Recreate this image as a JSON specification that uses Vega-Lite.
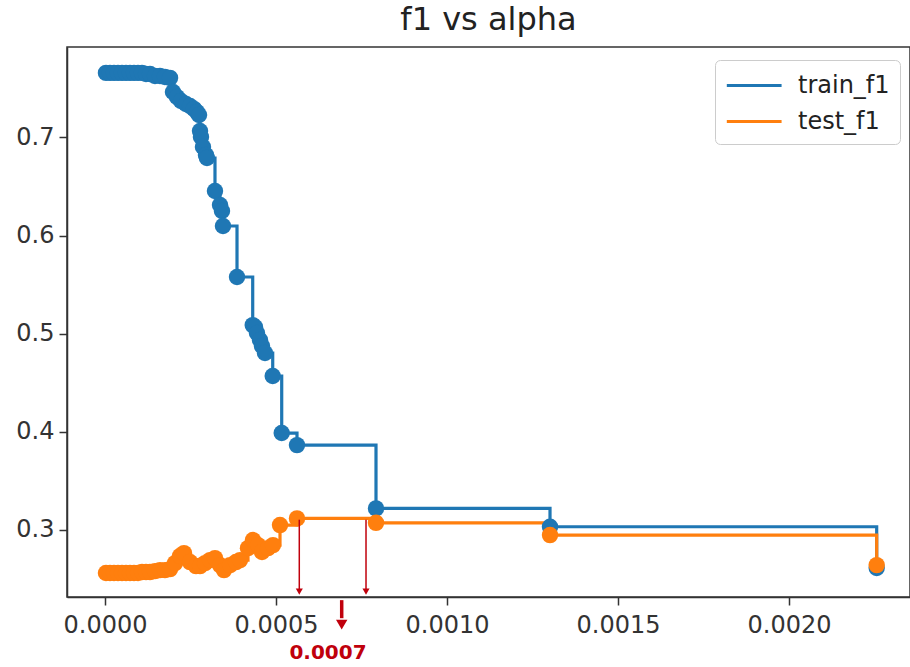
{
  "$schema": "https://vega.github.io/schema/vega-lite/v6.json",
  "width": 843,
  "height": 550,
  "autosize": "none",
  "padding": {"left": 67, "top": 47, "right": 0, "bottom": 70},
  "background": "white",
  "title": {"text": "f1 vs alpha", "fontSize": 32, "fontWeight": "normal", "color": "#222", "font": "DejaVu Sans", "offset": 10, "anchor": "middle"},
  "config": {
    "font": "DejaVu Sans",
    "view": {"stroke": "#333", "strokeWidth": 1.5},
    "axis": {"grid": false, "labelFontSize": 24, "labelColor": "#333", "tickColor": "#333", "domainColor": "#333", "tickSize": 8, "tickWidth": 1.5, "domainWidth": 1.5, "labelPadding": 5, "title": null, "labelFont": "DejaVu Sans"},
    "axisX": {"labelPadding": 8},
    "legend": {"orient": "none", "legendX": 648, "legendY": 13, "labelFontSize": 24, "labelColor": "#222", "symbolType": "M-1,0H3", "symbolSize": 750, "symbolStrokeWidth": 3, "strokeColor": "#cccccc", "fillColor": "white", "cornerRadius": 5, "padding": 10, "rowPadding": 8, "labelOffset": 42, "title": null}
  },
  "datasets": {
    "pts": [
      {"x": 0.0000029, "y": 0.7658, "series": "train_f1"},
      {"x": 0.0000146, "y": 0.7658, "series": "train_f1"},
      {"x": 0.0000263, "y": 0.7658, "series": "train_f1"},
      {"x": 0.000038, "y": 0.7658, "series": "train_f1"},
      {"x": 0.0000497, "y": 0.7658, "series": "train_f1"},
      {"x": 0.0000614, "y": 0.7658, "series": "train_f1"},
      {"x": 0.0000731, "y": 0.7658, "series": "train_f1"},
      {"x": 0.0000848, "y": 0.7658, "series": "train_f1"},
      {"x": 0.0000965, "y": 0.7658, "series": "train_f1"},
      {"x": 0.0001082, "y": 0.7658, "series": "train_f1"},
      {"x": 0.0001199, "y": 0.7647, "series": "train_f1"},
      {"x": 0.0001316, "y": 0.7647, "series": "train_f1"},
      {"x": 0.0001462, "y": 0.7627, "series": "train_f1"},
      {"x": 0.0001608, "y": 0.7627, "series": "train_f1"},
      {"x": 0.0001754, "y": 0.7617, "series": "train_f1"},
      {"x": 0.0001901, "y": 0.7607, "series": "train_f1"},
      {"x": 0.0001988, "y": 0.7464, "series": "train_f1"},
      {"x": 0.0002105, "y": 0.7413, "series": "train_f1"},
      {"x": 0.0002222, "y": 0.7372, "series": "train_f1"},
      {"x": 0.0002368, "y": 0.7341, "series": "train_f1"},
      {"x": 0.0002485, "y": 0.7321, "series": "train_f1"},
      {"x": 0.0002602, "y": 0.7291, "series": "train_f1"},
      {"x": 0.000269, "y": 0.726, "series": "train_f1"},
      {"x": 0.0002749, "y": 0.7229, "series": "train_f1"},
      {"x": 0.0002778, "y": 0.7066, "series": "train_f1"},
      {"x": 0.0002807, "y": 0.7005, "series": "train_f1"},
      {"x": 0.0002865, "y": 0.6903, "series": "train_f1"},
      {"x": 0.0002953, "y": 0.6822, "series": "train_f1"},
      {"x": 0.0002982, "y": 0.6791, "series": "train_f1"},
      {"x": 0.0003216, "y": 0.6455, "series": "train_f1"},
      {"x": 0.0003363, "y": 0.6312, "series": "train_f1"},
      {"x": 0.0003421, "y": 0.6251, "series": "train_f1"},
      {"x": 0.000345, "y": 0.6098, "series": "train_f1"},
      {"x": 0.000386, "y": 0.5578, "series": "train_f1"},
      {"x": 0.0004319, "y": 0.5088, "series": "train_f1"},
      {"x": 0.0004386, "y": 0.5068, "series": "train_f1"},
      {"x": 0.0004444, "y": 0.5007, "series": "train_f1"},
      {"x": 0.0004532, "y": 0.4936, "series": "train_f1"},
      {"x": 0.000459, "y": 0.4875, "series": "train_f1"},
      {"x": 0.0004678, "y": 0.4803, "series": "train_f1"},
      {"x": 0.0004904, "y": 0.4569, "series": "train_f1"},
      {"x": 0.0005167, "y": 0.3988, "series": "train_f1"},
      {"x": 0.0005614, "y": 0.3865, "series": "train_f1"},
      {"x": 0.0007924, "y": 0.322, "series": "train_f1"},
      {"x": 0.0013012, "y": 0.3033, "series": "train_f1"},
      {"x": 0.0022564, "y": 0.2612, "series": "train_f1"},
      {"x": 0.0000029, "y": 0.2561, "series": "test_f1"},
      {"x": 0.0000146, "y": 0.2561, "series": "test_f1"},
      {"x": 0.0000263, "y": 0.2561, "series": "test_f1"},
      {"x": 0.000038, "y": 0.2561, "series": "test_f1"},
      {"x": 0.0000497, "y": 0.2561, "series": "test_f1"},
      {"x": 0.0000614, "y": 0.2561, "series": "test_f1"},
      {"x": 0.0000731, "y": 0.2561, "series": "test_f1"},
      {"x": 0.0000848, "y": 0.2561, "series": "test_f1"},
      {"x": 0.0000965, "y": 0.2561, "series": "test_f1"},
      {"x": 0.0001082, "y": 0.2571, "series": "test_f1"},
      {"x": 0.0001199, "y": 0.2571, "series": "test_f1"},
      {"x": 0.0001316, "y": 0.2571, "series": "test_f1"},
      {"x": 0.0001462, "y": 0.2581, "series": "test_f1"},
      {"x": 0.0001608, "y": 0.2591, "series": "test_f1"},
      {"x": 0.0001754, "y": 0.2591, "series": "test_f1"},
      {"x": 0.0001901, "y": 0.2601, "series": "test_f1"},
      {"x": 0.0002047, "y": 0.2662, "series": "test_f1"},
      {"x": 0.0002193, "y": 0.2734, "series": "test_f1"},
      {"x": 0.000231, "y": 0.2764, "series": "test_f1"},
      {"x": 0.0002485, "y": 0.2673, "series": "test_f1"},
      {"x": 0.0002661, "y": 0.2632, "series": "test_f1"},
      {"x": 0.0002778, "y": 0.2632, "series": "test_f1"},
      {"x": 0.0002924, "y": 0.2662, "series": "test_f1"},
      {"x": 0.000307, "y": 0.2693, "series": "test_f1"},
      {"x": 0.0003216, "y": 0.2713, "series": "test_f1"},
      {"x": 0.0003363, "y": 0.2642, "series": "test_f1"},
      {"x": 0.000348, "y": 0.2591, "series": "test_f1"},
      {"x": 0.0003655, "y": 0.2642, "series": "test_f1"},
      {"x": 0.000383, "y": 0.2673, "series": "test_f1"},
      {"x": 0.0003947, "y": 0.2693, "series": "test_f1"},
      {"x": 0.0004181, "y": 0.2815, "series": "test_f1"},
      {"x": 0.0004327, "y": 0.2897, "series": "test_f1"},
      {"x": 0.0004474, "y": 0.2846, "series": "test_f1"},
      {"x": 0.0004591, "y": 0.2775, "series": "test_f1"},
      {"x": 0.0004766, "y": 0.2815, "series": "test_f1"},
      {"x": 0.0004912, "y": 0.2846, "series": "test_f1"},
      {"x": 0.0005117, "y": 0.305, "series": "test_f1"},
      {"x": 0.0005614, "y": 0.3118, "series": "test_f1"},
      {"x": 0.0007924, "y": 0.3073, "series": "test_f1"},
      {"x": 0.0013012, "y": 0.2948, "series": "test_f1"},
      {"x": 0.0022564, "y": 0.2642, "series": "test_f1"}
    ],
    "thin": [
      {"x": 0.0005681, "y": 0.3105, "y2": 0.2392},
      {"x": 0.0007632, "y": 0.3105, "y2": 0.2392}
    ],
    "thinhead": [
      {"x": 0.0005681, "y": 0.2372},
      {"x": 0.0007632, "y": 0.2372}
    ],
    "thick": [
      {"x": 0.0006921, "y": 0.2285, "y2": 0.2101}
    ],
    "thickhead": [
      {"x": 0.0006921, "y": 0.2036}
    ],
    "label": [
      {"x": 0.000652, "y": 0.1745, "text": "0.0007"}
    ]
  },
  "encoding": {
    "x": {"field": "x", "type": "quantitative", "scale": {"domain": [-0.0001111, 0.0023538], "nice": false, "zero": false}, "axis": {"values": [0, 0.0005, 0.001, 0.0015, 0.002], "format": ".4f", "title": null}},
    "y": {"field": "y", "type": "quantitative", "scale": {"domain": [0.2317, 0.7922], "nice": false, "zero": false}, "axis": {"values": [0.3, 0.4, 0.5, 0.6, 0.7], "format": ".1f", "title": null}}
  },
  "layer": [
    {
      "data": {"name": "pts"},
      "mark": {"type": "line", "interpolate": "step-after", "strokeWidth": 3.2},
      "encoding": {
        "color": {"field": "series", "type": "nominal", "sort": ["train_f1", "test_f1"], "scale": {"domain": ["train_f1", "test_f1"], "range": ["#1f77b4", "#ff7f0e"]}, "legend": {"title": null}}
      }
    },
    {
      "data": {"name": "pts"},
      "mark": {"type": "point", "filled": true, "size": 270, "opacity": 1, "strokeWidth": 0},
      "encoding": {
        "color": {"field": "series", "type": "nominal", "scale": {"domain": ["train_f1", "test_f1"], "range": ["#1f77b4", "#ff7f0e"]}, "legend": null}
      }
    },
    {
      "data": {"name": "thin"},
      "mark": {"type": "rule", "color": "#c0000c", "strokeWidth": 1.5},
      "encoding": {"y2": {"field": "y2"}}
    },
    {
      "data": {"name": "thinhead"},
      "mark": {"type": "point", "shape": "triangle-down", "filled": true, "color": "#c0000c", "size": 50, "opacity": 1, "strokeWidth": 0}
    },
    {
      "data": {"name": "thick"},
      "mark": {"type": "rule", "color": "#c0000c", "strokeWidth": 3.5},
      "encoding": {"y2": {"field": "y2"}}
    },
    {
      "data": {"name": "thickhead"},
      "mark": {"type": "point", "shape": "triangle-down", "filled": true, "color": "#c0000c", "size": 130, "opacity": 1, "strokeWidth": 0}
    },
    {
      "data": {"name": "label"},
      "mark": {"type": "text", "color": "#c0000c", "fontSize": 20, "fontWeight": "bold", "font": "DejaVu Sans", "baseline": "middle", "align": "center"},
      "encoding": {"text": {"field": "text"}}
    }
  ]
}
